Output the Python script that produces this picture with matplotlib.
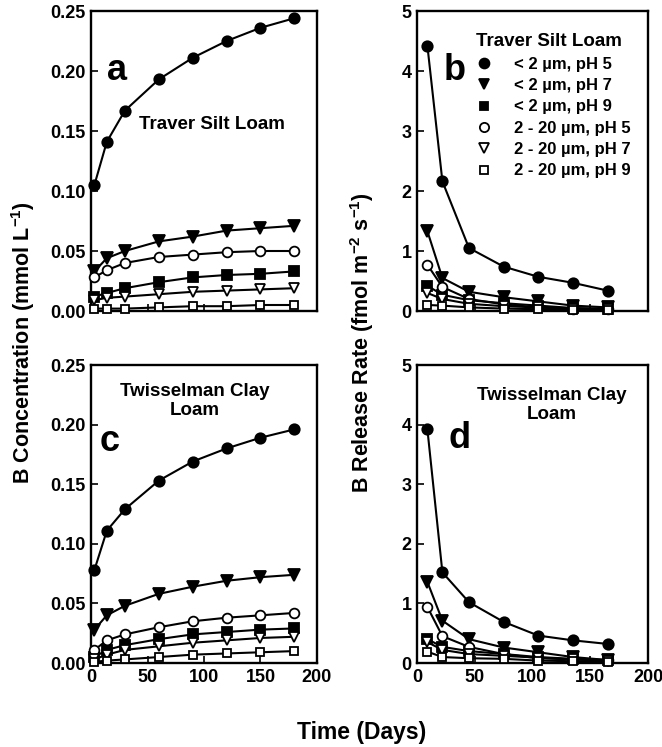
import matplotlib
matplotlib.use('Agg')
import matplotlib.pyplot as plt
from matplotlib.lines import Line2D

plt.rcParams['font.family'] = ['Liberation Sans', 'DejaVu Sans']
plt.rcParams['font.weight'] = 'bold'
plt.rcParams['mathtext.fontset'] = 'custom'
plt.rcParams['mathtext.rm'] = 'Liberation Sans:bold'
plt.rcParams['mathtext.bf'] = 'Liberation Sans:bold'
plt.rcParams['mathtext.it'] = 'Liberation Sans:bold'

# sampling times (days) and mid-interval times for release rates
days_conc = [3, 14, 30, 60, 90, 120, 150, 180]
days_rate = [9, 22, 45, 75, 105, 135, 165]

series_labels = ['< 2 µm, pH 5', '< 2 µm, pH 7', '< 2 µm, pH 9',
                 '2 - 20 µm, pH 5', '2 - 20 µm, pH 7', '2 - 20 µm, pH 9']
markers = ['o', 'v', 's', 'o', 'v', 's']
faces = ['black', 'black', 'black', 'white', 'white', 'white']
msizes = [7.5, 8, 6.5, 7, 7, 6]

# a: Traver silt loam, B concentration (mmol/L)
traver_conc = [
    [0.105, 0.141, 0.167, 0.193, 0.211, 0.225, 0.236, 0.244],
    [0.033, 0.044, 0.050, 0.058, 0.062, 0.067, 0.069, 0.071],
    [0.012, 0.015, 0.019, 0.024, 0.028, 0.030, 0.031, 0.033],
    [0.028, 0.034, 0.040, 0.045, 0.047, 0.049, 0.050, 0.050],
    [0.009, 0.011, 0.012, 0.014, 0.016, 0.017, 0.018, 0.019],
    [0.002, 0.002, 0.002, 0.003, 0.004, 0.004, 0.005, 0.005],
]
# b: Traver silt loam, release rate
traver_rate = [
    [4.42, 2.16, 1.05, 0.74, 0.57, 0.47, 0.34],
    [1.33, 0.55, 0.32, 0.23, 0.16, 0.09, 0.06],
    [0.42, 0.27, 0.18, 0.13, 0.09, 0.05, 0.04],
    [0.77, 0.40, 0.20, 0.11, 0.06, 0.03, 0.03],
    [0.30, 0.20, 0.12, 0.08, 0.06, 0.04, 0.03],
    [0.10, 0.09, 0.06, 0.04, 0.03, 0.02, 0.02],
]
# c: Twisselman clay loam, B concentration
twiss_conc = [
    [0.078, 0.111, 0.129, 0.153, 0.169, 0.180, 0.189, 0.196],
    [0.028, 0.040, 0.048, 0.058, 0.064, 0.069, 0.072, 0.074],
    [0.005, 0.011, 0.015, 0.020, 0.024, 0.026, 0.028, 0.029],
    [0.011, 0.019, 0.024, 0.030, 0.035, 0.038, 0.040, 0.042],
    [0.003, 0.007, 0.011, 0.014, 0.017, 0.019, 0.021, 0.022],
    [0.001, 0.002, 0.003, 0.005, 0.007, 0.008, 0.009, 0.010],
]
# d: Twisselman clay loam, release rate
twiss_rate = [
    [3.92, 1.52, 1.02, 0.69, 0.46, 0.38, 0.32],
    [1.36, 0.71, 0.40, 0.26, 0.18, 0.10, 0.05],
    [0.40, 0.27, 0.20, 0.15, 0.10, 0.07, 0.05],
    [0.94, 0.45, 0.27, 0.15, 0.08, 0.06, 0.05],
    [0.35, 0.22, 0.15, 0.12, 0.09, 0.06, 0.04],
    [0.19, 0.10, 0.08, 0.07, 0.04, 0.03, 0.02],
]

conc_ticks = [0.00, 0.05, 0.10, 0.15, 0.20, 0.25]
rate_ticks = [0, 1, 2, 3, 4, 5]
x_ticks = [0, 50, 100, 150, 200]

fig = plt.figure(figsize=(6.62, 7.47), dpi=100)
W, H = 662, 747


def box(l, t, r, b):
    return [l / W, 1 - b / H, (r - l) / W, (b - t) / H]


ax_a = fig.add_axes(box(91, 11, 317, 311))
ax_b = fig.add_axes(box(417, 11, 648, 311))
ax_c = fig.add_axes(box(91, 365, 317, 663))
ax_d = fig.add_axes(box(417, 365, 648, 663))


def draw(ax, x, data, yticks, fmt):
    for i, ys in enumerate(data):
        ax.plot(x, ys, color='black', lw=1.5, marker=markers[i],
                mfc=faces[i], mec='black', mew=1.3, ms=msizes[i],
                clip_on=False, zorder=3 + i)
    ax.set_xlim(0, 200)
    ax.set_ylim(yticks[0], yticks[-1])
    ax.set_xticks(x_ticks)
    ax.set_yticks(yticks)
    ax.set_yticklabels([fmt % v for v in yticks])
    ax.tick_params(direction='in', length=5, width=1.2, labelsize=13, pad=4)
    for s in ax.spines.values():
        s.set_linewidth(1.7)


draw(ax_a, days_conc, traver_conc, conc_ticks, '%.2f')
draw(ax_b, days_rate, traver_rate, rate_ticks, '%d')
draw(ax_c, days_conc, twiss_conc, conc_ticks, '%.2f')
draw(ax_d, days_rate, twiss_rate, rate_ticks, '%d')
ax_a.tick_params(labelbottom=False)
ax_b.tick_params(labelbottom=False)

letter_kw = dict(fontsize=26, fontweight='bold', ha='center', va='center')
ax_a.text(0.115, 0.80, 'a', transform=ax_a.transAxes, **letter_kw)
ax_b.text(0.165, 0.80, 'b', transform=ax_b.transAxes, **letter_kw)
ax_c.text(0.084, 0.742, 'c', transform=ax_c.transAxes, **letter_kw)
ax_d.text(0.186, 0.755, 'd', transform=ax_d.transAxes, **letter_kw)

note_kw = dict(fontsize=13.5, fontweight='bold', ha='center', va='center',
               linespacing=1.15)
ax_a.text(0.535, 0.623, 'Traver Silt Loam', transform=ax_a.transAxes, **note_kw)
ax_c.text(0.46, 0.879, 'Twisselman Clay\nLoam', transform=ax_c.transAxes, **note_kw)
ax_d.text(0.584, 0.866, 'Twisselman Clay\nLoam', transform=ax_d.transAxes, **note_kw)

handles = [Line2D([], [], ls='none', marker=markers[i], mfc=faces[i],
                  mec='black', mew=1.3, ms=msizes[i] * 0.95)
           for i in range(6)]
leg = ax_b.legend(handles, series_labels, title='Traver Silt Loam',
                  loc='upper center', bbox_to_anchor=(549 / W, 1 - 25 / H),
                  bbox_transform=fig.transFigure, frameon=False,
                  fontsize=12, title_fontproperties={'size': 13.5, 'weight': 'bold'},
                  labelspacing=0.38, handletextpad=0.8, borderpad=0)
leg._legend_box.align = 'center'

fig.text(23 / W, 1 - 343 / H, r'B Concentration (mmol L$^{-1}$)', rotation=90,
         fontsize=15.5, fontweight='bold', ha='center', va='center')
fig.text(362 / W, 1 - 343 / H, r'B Release Rate (fmol m$^{-2}$ s$^{-1}$)',
         rotation=90, fontsize=15.5, fontweight='bold', ha='center', va='center')
fig.text(362 / W, 1 - 733 / H, 'Time (Days)', fontsize=16.5, fontweight='bold',
         ha='center', va='center')

fig.savefig('out.png', dpi=100)
